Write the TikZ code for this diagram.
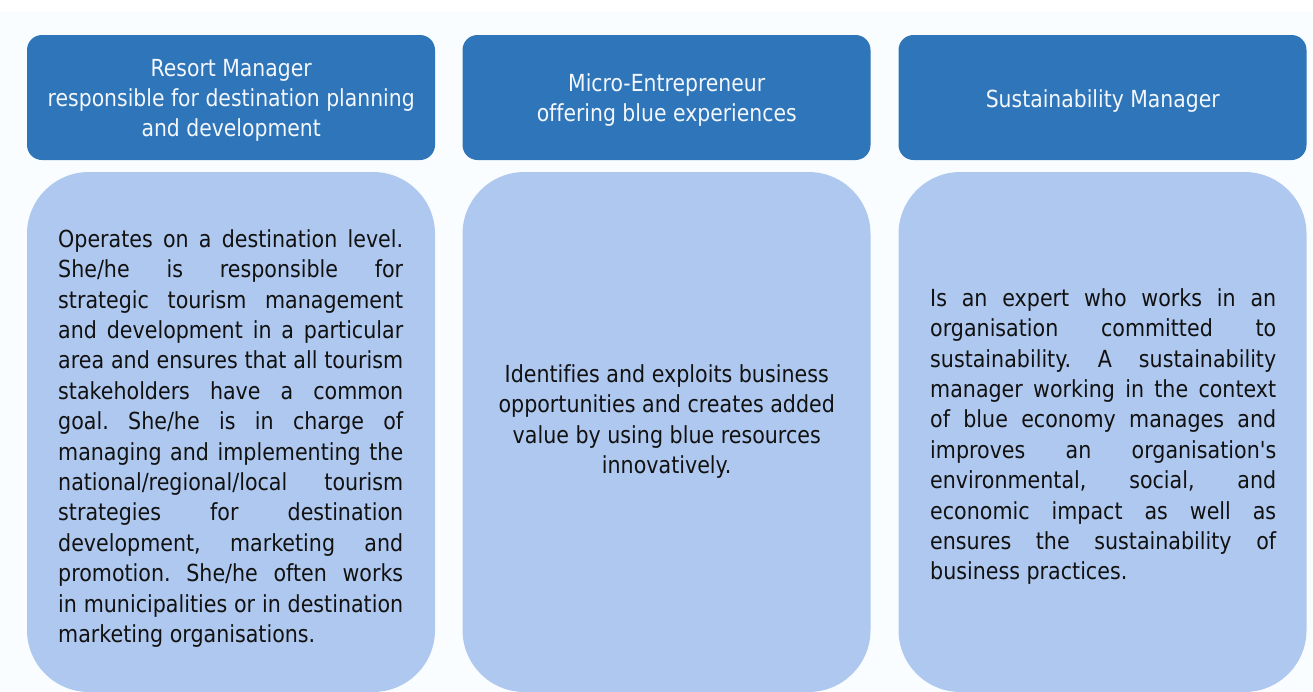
\documentclass[tikz,border=0pt]{standalone}
\usepackage{tikz}
\usepackage{fontspec}

% Calibrate a humanist sans to the set widths of the two text kinds
\newfontfamily\probefont{DejaVu Sans}
\newlength\probewd
\settowidth\probewd{\probefont\fontsize{23.5}{30}\selectfont Identifies and exploits business}
\pgfmathsetmacro\bodystretch{324/\probewd}
\settowidth\probewd{\probefont\fontsize{23.5}{30}\selectfont responsible for destination planning}
\pgfmathsetmacro\headstretch{367/\probewd}
\edef\makefonts{%
  \noexpand\newfontfamily\noexpand\bodyfont{DejaVu Sans}[FakeStretch=\bodystretch,Ligatures=NoCommon]%
  \noexpand\newfontfamily\noexpand\headfont{DejaVu Sans}[FakeStretch=\headstretch,Ligatures=NoCommon]}
\makefonts

\definecolor{pagebg}{HTML}{F9FDFF}
\definecolor{headblue}{HTML}{2E75B9}
\definecolor{bodyblue}{HTML}{AFC8EF}
\definecolor{inktext}{HTML}{111111}
\definecolor{headtext}{HTML}{F4F7FC}

% one typeset line of a text block: justified, left-set or centred
\newcommand\rowJ[2]{\hbox to #1pt{\rule{0pt}{20pt}#2}}
\newcommand\rowL[2]{\hbox to #1pt{\rule{0pt}{20pt}#2\hfil}}
\newcommand\rowC[2]{\hbox to #1pt{\rule{0pt}{20pt}\hfil#2\hfil}}

\tikzset{
  headbox/.style={fill=headblue, rounded corners=15pt, minimum width=408pt,
    minimum height=125pt, inner sep=0pt},
  bodybox/.style={fill=bodyblue, rounded corners=62pt, minimum width=408pt,
    minimum height=520pt, inner sep=0pt},
  headlabel/.style={anchor=north west, inner sep=0pt, text=headtext,
    font=\headfont\fontsize{23.5}{30}\selectfont\frenchspacing},
  bodylabel/.style={anchor=north west, inner sep=0pt, text=inktext,
    font=\bodyfont\fontsize{23.5}{30.4}\selectfont\frenchspacing},
}

\begin{document}
\begin{tikzpicture}[x=1pt, y=-1pt]
  \useasboundingbox (0,0) rectangle (1313,691);
  \fill[pagebg] (0,0) rectangle (1313,691);
  \fill[white] (0,0) rectangle (1313,12);

  % column frames
  \node[headbox] (h1) at (231,97.5) {};
  \node[headbox] (h2) at (666.5,97.5) {};
  \node[headbox] (h3) at (1102.5,97.5) {};
  \node[bodybox] (b1) at (231,432) {};
  \node[bodybox] (b2) at (666.5,432) {};
  \node[bodybox] (b3) at (1102.5,432) {};

  % role titles
  \node[headlabel] (t1) at (31,56) {\vbox{\baselineskip=30pt
    \rowC{400}{Resort Manager}
    \rowC{400}{responsible for destination planning}
    \rowC{400}{and development}}};
  \node[headlabel] (t2) at (466.5,71) {\vbox{\baselineskip=30pt
    \rowC{400}{Micro-Entrepreneur}
    \rowC{400}{offering blue experiences}}};
  \node[headlabel] (t3) at (902.5,87) {\vbox{\baselineskip=30pt
    \rowC{400}{Sustainability Manager}}};

  % role descriptions
  \node[bodylabel] (d1) at (58,227) {\vbox{\baselineskip=30.4pt
    \rowJ{345}{Operates on a destination level.}
    \rowJ{345}{She/he is responsible for}
    \rowJ{345}{strategic tourism management}
    \rowJ{345}{and development in a particular}
    \rowJ{345}{area and ensures that all tourism}
    \rowJ{345}{stakeholders have a common}
    \rowJ{345}{goal. She/he is in charge of}
    \rowJ{345}{managing and implementing the}
    \rowJ{345}{national/regional/local tourism}
    \rowJ{345}{strategies for destination}
    \rowJ{345}{development, marketing and}
    \rowJ{345}{promotion. She/he often works}
    \rowJ{345}{in municipalities or in destination}
    \rowL{345}{marketing organisations.}}};
  \node[bodylabel] (d2) at (466.5,362) {\vbox{\baselineskip=30.4pt
    \rowC{400}{Identifies and exploits business}
    \rowC{400}{opportunities and creates added}
    \rowC{400}{value by using blue resources}
    \rowC{400}{innovatively.}}};
  \node[bodylabel] (d3) at (930,286) {\vbox{\baselineskip=30.4pt
    \rowJ{346}{Is an expert who works in an}
    \rowJ{346}{organisation committed to}
    \rowJ{346}{sustainability. A sustainability}
    \rowJ{346}{manager working in the context}
    \rowJ{346}{of blue economy manages and}
    \rowJ{346}{improves an organisation's}
    \rowJ{346}{environmental, social, and}
    \rowJ{346}{economic impact as well as}
    \rowJ{346}{ensures the sustainability of}
    \rowL{346}{business practices.}}};
\end{tikzpicture}
\end{document}
